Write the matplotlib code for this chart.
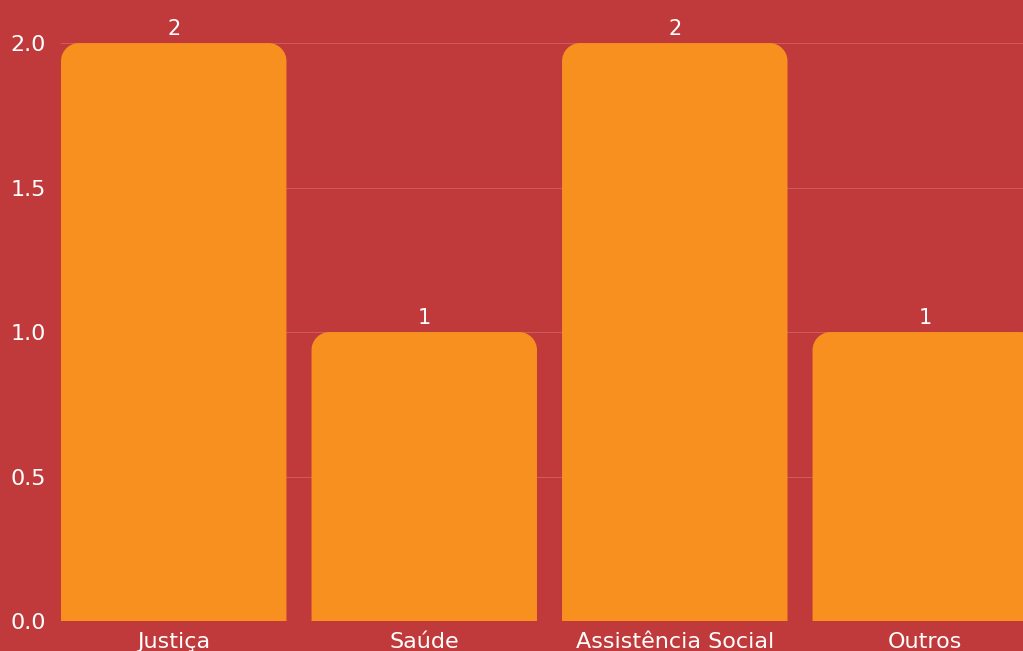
import matplotlib.pyplot as plt
from matplotlib.path import Path
from matplotlib.patches import PathPatch

# dados
categorias = ["Justiça", "Saúde", "Assistência Social", "Outros"]
valores = [2, 1, 2, 1]

FUNDO = "#C0393B"
BARRA = "#F7901E"
GRADE = "#CE5B5B"
TEXTO = "#FFFFFF"

plt.rcParams["font.family"] = ["DejaVu Sans"]

fig = plt.figure(figsize=(10.23, 6.51), dpi=100, facecolor=FUNDO)
ax = fig.add_axes([61 / 1023, 30 / 651, 1 - 61 / 1023, 1 - 30 / 651])
ax.set_facecolor(FUNDO)

x = list(range(len(categorias)))
ax.set_xlim(-0.45, 3.39)
ax.set_ylim(0, 2.149)

# barras invisíveis só para posicionar os rótulos
barras = ax.bar(x, valores, width=0.9, color="none", zorder=3)


def barra_arredondada(x0, larg, alt, rx, ry):
    # retângulo com os cantos de cima arredondados (raio em unidades de dados)
    k = 0.5523
    x1 = x0 + larg
    verts = [
        (x0, 0), (x1, 0), (x1, alt - ry),
        (x1, alt - ry + k * ry), (x1 - rx + k * rx, alt), (x1 - rx, alt),
        (x0 + rx, alt),
        (x0 + rx - k * rx, alt), (x0, alt - ry + k * ry), (x0, alt - ry),
        (x0, 0),
    ]
    codes = [Path.MOVETO, Path.LINETO, Path.LINETO,
             Path.CURVE4, Path.CURVE4, Path.CURVE4,
             Path.LINETO,
             Path.CURVE4, Path.CURVE4, Path.CURVE4,
             Path.CLOSEPOLY]
    return Path(verts, codes)


# raio em pixels convertido para dados
px_x = ax.transData.transform((1, 0))[0] - ax.transData.transform((0, 0))[0]
px_y = ax.transData.transform((0, 1))[1] - ax.transData.transform((0, 0))[1]
rx, ry = 18 / px_x, 18 / px_y

for b in barras:
    p = barra_arredondada(b.get_x(), b.get_width(), b.get_height(), rx, ry)
    ax.add_patch(PathPatch(p, facecolor=BARRA, edgecolor="none", zorder=3, clip_on=False))

ax.bar_label(barras, labels=[str(v) for v in valores], padding=3,
             color=TEXTO, fontsize=15)

ax.set_xticks(x)
ax.set_xticklabels(categorias)
ax.set_yticks([0, 0.5, 1.0, 1.5, 2.0])
ax.set_yticklabels(["0.0", "0.5", "1.0", "1.5", "2.0"])
ax.tick_params(axis="both", length=0, colors=TEXTO, labelsize=16)
ax.tick_params(axis="y", pad=11)
ax.tick_params(axis="x", pad=8)

ax.grid(axis="y", color=GRADE, linewidth=0.8, zorder=0)
ax.set_axisbelow(True)
for s in ax.spines.values():
    s.set_visible(False)

fig.savefig("out.png", dpi=100, facecolor=FUNDO)
